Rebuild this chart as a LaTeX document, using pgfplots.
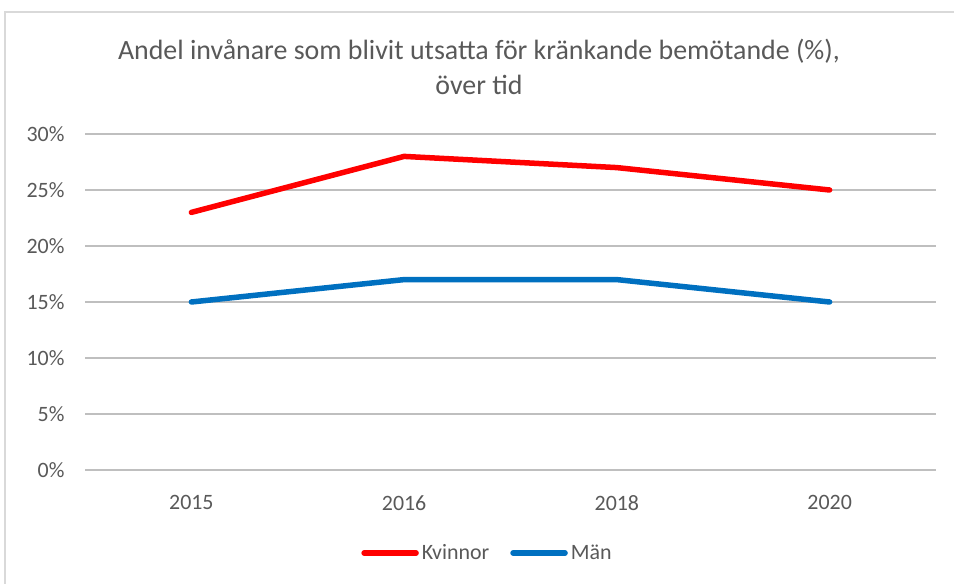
\documentclass[border=0pt]{standalone}
\usepackage{pgfplots}
\pgfplotsset{compat=1.18}
\usepackage{fontspec}
\setmainfont{Carlito}
\definecolor{txt}{HTML}{595959}
\definecolor{grid}{HTML}{D9D9D9}
\definecolor{kv}{HTML}{FF0000}
\definecolor{mn}{HTML}{0070C0}
\begin{document}
\begin{tikzpicture}
\fill[white] (0bp,0bp) rectangle (954bp,584bp);
\draw[grid, line width=1.2bp] (5bp,-20bp) -- (5bp,572bp) -- (1000bp,572bp);
\node[text=txt, font=\fontsize{28}{35}\selectfont, align=center] at (479bp,517bp) {Andel invånare som blivit utsatta för kränkande bemötande (\%),\\över tid};
\begin{axis}[
  at={(85bp,114bp)}, anchor=south west,
  scale only axis, width=851bp, height=336bp,
  xmin=-0.5, xmax=3.5, ymin=0, ymax=30,
  xtick={0,1,2,3}, xticklabels={2015,2016,2018,2020},
  ytick={0,5,10,15,20,25,30},
  yticklabel={\pgfmathprintnumber{\tick}\%},
  /pgf/number format/assume math mode=true,
  ymajorgrids, xmajorgrids=false, grid style={grid, line width=1.2bp},
  axis line style={draw=none},
  major tick length=0pt,
  tick label style={text=txt, font=\fontsize{22}{26}\selectfont},
  xticklabel style={yshift=-22bp},
  yticklabel style={xshift=-17bp},
  legend columns=2,
  legend style={at={(0.4735,-0.247)}, anchor=center, draw=none, fill=none,
    font=\fontsize{22}{26}\selectfont, text=txt,
    /tikz/every even column/.append style={column sep=18bp},
    nodes={inner xsep=3bp}},
  legend image code/.code={\draw[#1, line cap=round] (0bp,0bp) -- (52bp,0bp);},
  clip=false,
]
\addplot[kv, line width=5.5bp, line cap=round, line join=round] coordinates {(0,23) (1,28) (2,27) (3,25)};
\addlegendentry{Kvinnor}
\addplot[mn, line width=5.5bp, line cap=round, line join=round] coordinates {(0,15) (1,17) (2,17) (3,15)};
\addlegendentry{Män}
\end{axis}
\pgfresetboundingbox
\useasboundingbox (0bp,0bp) rectangle (954bp,584bp);
\end{tikzpicture}
\end{document}
